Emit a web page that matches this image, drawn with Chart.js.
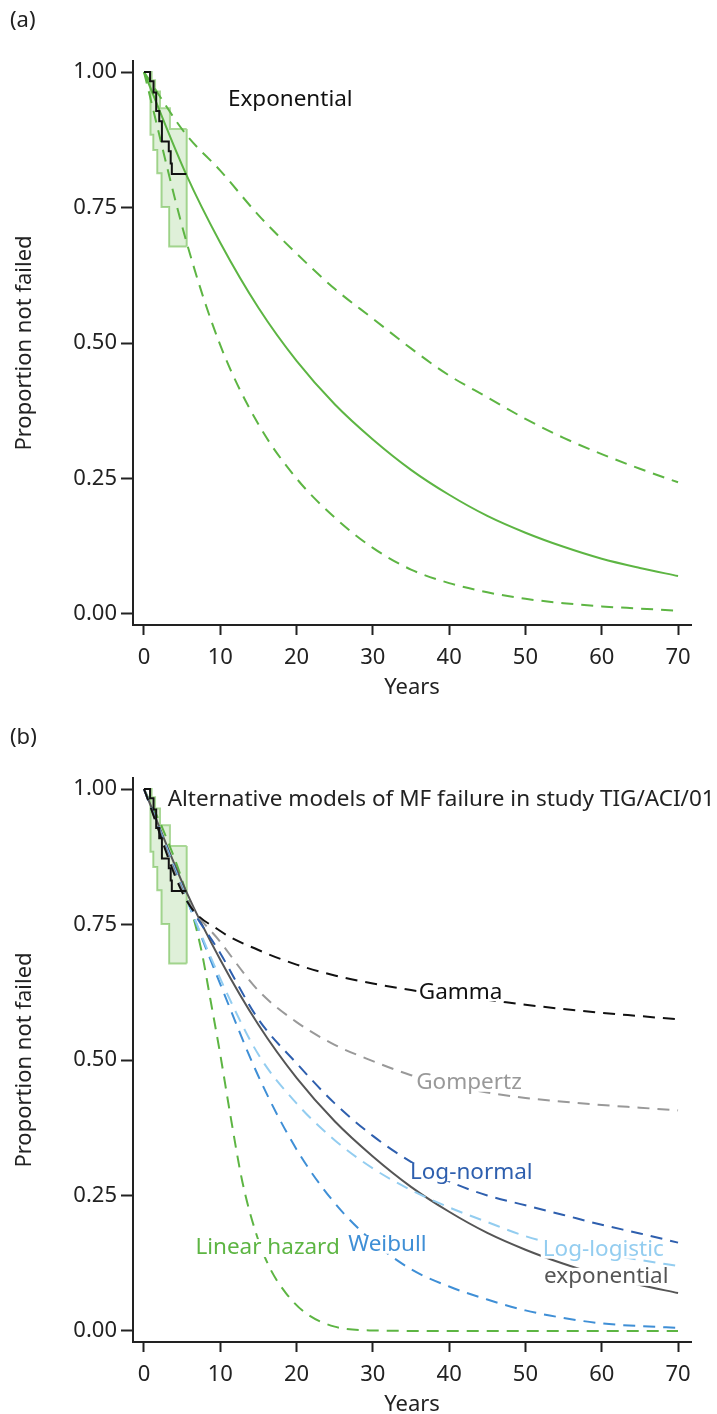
<!DOCTYPE html>
<html>
<head>
<meta charset="utf-8">
<script src="https://cdn.jsdelivr.net/npm/chart.js@4.4.0/dist/chart.umd.min.js"></script>
<style>
html, body { margin: 0; padding: 0; width: 717px; height: 1414px; overflow: hidden; background: #fff; }
.panel { position: absolute; left: 0; width: 717px; height: 717px; }
.tag { position: absolute; left: 10px; font: 22px "Noto Sans", sans-serif; color: #222; }
</style>
</head>
<body>
<div class="panel" style="top:0"><canvas id="chartA" width="717" height="717"></canvas></div>
<div class="tag" style="top:3px">(a)</div>
<div class="panel" style="top:717px"><canvas id="chartB" width="717" height="717"></canvas></div>
<div class="tag" style="top:720px">(b)</div>
<script>
const FONT = '"Noto Sans", sans-serif';

const yearTicks = [0, 10, 20, 30, 40, 50, 60, 70];
const propTicks = [0, 0.25, 0.5, 0.75, 1];

// Kaplan-Meier estimate and its confidence band
const kmYears = [0, 0.8, 1.25, 1.6, 2.0, 2.35, 3.25, 3.5, 3.65, 5.55];
const kmSurv  = [1, 0.983, 0.962, 0.928, 0.909, 0.872, 0.854, 0.831, 0.812, 0.812];
const ciUpYears = [0, 1.0, 1.45, 2.1, 3.4, 5.6];
const ciUp      = [1, 0.985, 0.964, 0.933, 0.895, 0.895];
const ciLoYears = [0, 0.85, 1.22, 1.74, 2.3, 3.3, 5.6];
const ciLo      = [1, 0.884, 0.856, 0.813, 0.751, 0.678, 0.678];

// model curves, read every 5 years
const years = [0, 5.5, 10, 15, 20, 25, 30, 35, 40, 45, 50, 55, 60, 65, 70];
const expSurv = [1, 0.812, 0.685, 0.565, 0.467, 0.387, 0.322, 0.266, 0.220, 0.181, 0.150, 0.124, 0.102, 0.085, 0.070];
const expHi   = [1, 0.885, 0.818, 0.736, 0.665, 0.600, 0.545, 0.490, 0.440, 0.400, 0.360, 0.325, 0.295, 0.268, 0.243];
const expLo   = [1, 0.690, 0.496, 0.350, 0.250, 0.178, 0.122, 0.082, 0.057, 0.040, 0.028, 0.020, 0.014, 0.010, 0.006];

const gammaSurv = [1, 0.796, 0.738, 0.703, 0.676, 0.656, 0.641, 0.629, 0.619, 0.611, 0.602, 0.594, 0.587, 0.581, 0.575];
const gompSurv  = [1, 0.800, 0.718, 0.628, 0.570, 0.528, 0.498, 0.472, 0.453, 0.440, 0.430, 0.423, 0.417, 0.412, 0.407];
const lnormSurv = [1, 0.800, 0.697, 0.575, 0.494, 0.420, 0.360, 0.312, 0.276, 0.250, 0.232, 0.214, 0.196, 0.180, 0.163];
const llogSurv  = [1, 0.800, 0.650, 0.510, 0.420, 0.352, 0.300, 0.260, 0.228, 0.201, 0.175, 0.157, 0.143, 0.131, 0.120];
const weibSurv  = [1, 0.800, 0.640, 0.470, 0.335, 0.236, 0.165, 0.114, 0.082, 0.058, 0.038, 0.024, 0.014, 0.009, 0.006];
const linYears = [0, 2.5, 5.5, 7.5, 8.7, 10, 11.3, 12.9, 14.7, 16.4, 18.6, 21.2, 25, 30, 40, 50, 60, 70];
const linSurv  = [1, 0.925, 0.81, 0.704, 0.612, 0.51, 0.40, 0.275, 0.18, 0.119, 0.070, 0.033, 0.008, 0.001, 0, 0, 0, 0];

const GREEN = '#5db543';
const BAND = '#a9d896';
const pts = (xs, ys) => xs.map((x, i) => ({x: x, y: ys[i]}));

function curve(xs, ys, color, dashed) {
  return {
    data: pts(xs, ys), borderColor: color, borderWidth: 2,
    borderDash: dashed ? [12, 8] : [], pointRadius: 0,
    cubicInterpolationMode: 'monotone', fill: false
  };
}

function kmSet() {
  return {data: pts(kmYears, kmSurv), borderColor: '#111', borderWidth: 2, stepped: true, pointRadius: 0, fill: false};
}

function bandSets() {
  const n = ciUp.length - 1, m = ciLo.length - 1;
  return [
    {data: pts(ciUpYears, ciUp), borderColor: BAND, borderWidth: 2, stepped: true, pointRadius: 0,
     fill: '+1', backgroundColor: 'rgba(93,181,67,0.2)'},
    {data: pts(ciLoYears, ciLo), borderColor: BAND, borderWidth: 2, stepped: true, pointRadius: 0, fill: false},
    {data: [{x: ciUpYears[n], y: ciUp[n]}, {x: ciLoYears[m], y: ciLo[m]}],
     borderColor: BAND, borderWidth: 2, pointRadius: 0, fill: false}
  ];
}

// text placed at data coordinates, optionally masking the line underneath
const textLabels = {
  id: 'textLabels',
  afterDatasetsDraw(chart, args, opts) {
    const {ctx, scales: {x, y}} = chart;
    ctx.save();
    ctx.font = '22.5px ' + FONT;
    ctx.textBaseline = 'middle';
    opts.items.forEach(it => {
      const px = x.getPixelForValue(it.x), py = y.getPixelForValue(it.y);
      ctx.textAlign = it.align || 'center';
      if (it.clear) {
        const w = ctx.measureText(it.text).width;
        const left = it.align === 'left' ? px : px - w / 2;
        ctx.fillStyle = '#fff';
        ctx.fillRect(left - 2, py - 9, w + 4, 18);
      }
      ctx.fillStyle = it.color;
      ctx.fillText(it.text, px, py);
    });
    ctx.restore();
  }
};

function makeChart(id, datasets, items) {
  const axisFont = {size: 22, family: FONT};
  return new Chart(document.getElementById(id), {
    type: 'scatter',
    data: {datasets: datasets.map(d => Object.assign({showLine: true}, d))},
    options: {
      responsive: false,
      animation: false,
      events: [],
      layout: {padding: {top: 61, right: 26, left: 0, bottom: 0}},
      plugins: {legend: {display: false}, tooltip: {enabled: false}, textLabels: {items: items}},
      scales: {
        x: {
          type: 'linear', min: -1.44, max: 71.7,
          afterBuildTicks: s => { s.ticks = yearTicks.map(v => ({value: v})); },
          afterFit: s => { s.height = 92; },
          border: {display: true, color: '#222', width: 2},
          grid: {drawOnChartArea: false, tickLength: 10, tickWidth: 2, tickColor: '#222'},
          ticks: {color: '#222', font: axisFont, padding: 10, maxRotation: 0},
          title: {display: true, text: 'Years', color: '#222', font: axisFont, padding: {top: 0, bottom: 16}}
        },
        y: {
          type: 'linear', min: -0.0203, max: 1.0203,
          afterBuildTicks: s => { s.ticks = propTicks.map(v => ({value: v})); },
          afterFit: s => { s.width = 133; },
          border: {display: true, color: '#222', width: 2},
          grid: {drawOnChartArea: false, tickLength: 12, tickWidth: 2, tickColor: '#222'},
          ticks: {color: '#222', font: axisFont, padding: 4, callback: v => Number(v).toFixed(2)},
          title: {display: true, text: 'Proportion not failed', color: '#222', font: axisFont, padding: {top: 12, bottom: 0}}
        }
      }
    },
    plugins: [textLabels]
  });
}

makeChart('chartA', [
  kmSet(),
  curve(years, expSurv, GREEN, false),
  curve(years, expHi, GREEN, true),
  curve(years, expLo, GREEN, true),
  ...bandSets()
], [
  {text: 'Exponential', x: 11.0, y: 0.95, align: 'left', color: '#111'}
]);

makeChart('chartB', [
  kmSet(),
  curve(years, gammaSurv, '#111', true),
  curve(years, gompSurv, '#999', true),
  curve(years, lnormSurv, '#2e5fae', true),
  curve(years, llogSurv, '#93cdf0', true),
  curve(years, weibSurv, '#3f8fd6', true),
  curve(years, expSurv, '#555', false),
  curve(linYears, linSurv, GREEN, true),
  ...bandSets()
], [
  {text: 'Alternative models of MF failure in study TIG/ACI/01', x: 3.1, y: 0.98, align: 'left', color: '#222'},
  {text: 'Gamma', x: 41.5, y: 0.625, color: '#111', clear: true},
  {text: 'Gompertz', x: 42.6, y: 0.458, color: '#999', clear: true},
  {text: 'Log-normal', x: 42.9, y: 0.293, color: '#2e5fae', clear: true},
  {text: 'Log-logistic', x: 60.2, y: 0.150, color: '#93cdf0', clear: true},
  {text: 'exponential', x: 60.6, y: 0.100, color: '#555', clear: true},
  {text: 'Weibull', x: 31.9, y: 0.159, color: '#3f8fd6', clear: true},
  {text: 'Linear hazard', x: 16.2, y: 0.153, color: GREEN, clear: true}
]);
</script>
</body>
</html>
